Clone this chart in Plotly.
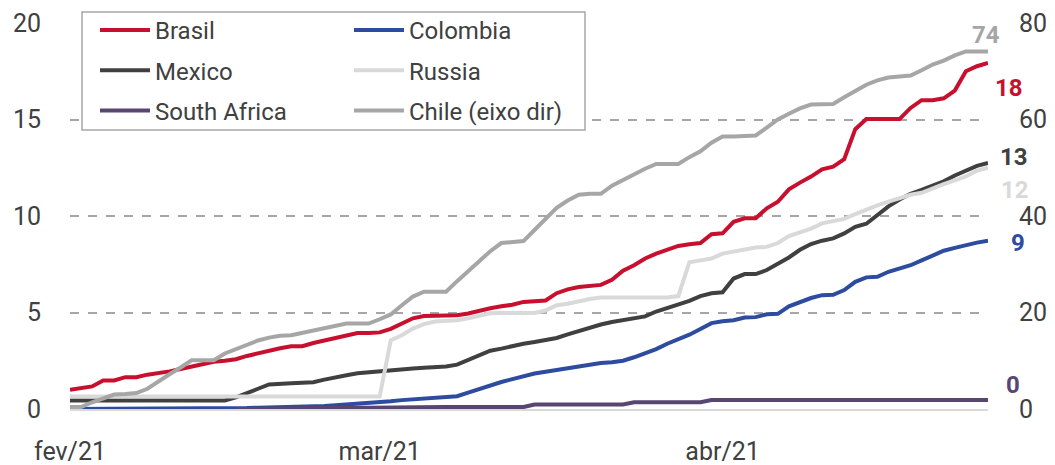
import plotly.graph_objects as go
import pandas as pd

# Daily dates, 1 Feb 2021 .. 25 Apr 2021
dates = pd.date_range("2021-02-01", "2021-04-25", freq="D").strftime("%Y-%m-%d").tolist()

tick_dates = ["2021-02-01", "2021-03-01", "2021-04-01"]
tick_labels = ["fev/21", "mar/21", "abr/21"]

brasil = [1.0, 1.08, 1.17, 1.48, 1.48, 1.65, 1.65, 1.78, 1.85, 1.95,
          2.07, 2.2, 2.32, 2.45, 2.5, 2.58, 2.75, 2.9, 3.05, 3.15,
          3.25, 3.25, 3.42, 3.55, 3.65, 3.82, 3.94, 3.94, 3.97, 4.15,
          4.45, 4.7, 4.82, 4.85, 4.86, 4.86, 4.95, 5.1, 5.22, 5.32,
          5.4, 5.55, 5.58, 5.62, 6.0, 6.2, 6.32, 6.4, 6.43, 6.7,
          7.16, 7.45, 7.8, 8.05, 8.25, 8.45, 8.54, 8.6, 9.06, 9.1,
          9.7, 9.88, 9.88, 10.4, 10.74, 11.38, 11.73, 12.04, 12.42, 12.56,
          12.94, 14.5, 15.02, 15.02, 15.02, 15.02, 15.6, 16.0, 16.0, 16.1,
          16.5, 17.5, 17.76, 17.93]

colombia = [0.0, 0.0, 0.0, 0.0, 0.0, 0.0, 0.0, 0.0, 0.0, 0.0,
            0.0, 0.0, 0.0, 0.0, 0.0, 0.02, 0.05, 0.07, 0.08, 0.09,
            0.1, 0.12, 0.14, 0.16, 0.2, 0.23, 0.27, 0.3, 0.33, 0.4,
            0.46, 0.5, 0.55, 0.59, 0.62, 0.66, 0.85, 1.05, 1.25, 1.4,
            1.55, 1.7, 1.84, 1.93, 2.03, 2.12, 2.22, 2.3, 2.38, 2.42,
            2.5, 2.68, 2.87, 3.1, 3.38, 3.6, 3.85, 4.15, 4.45, 4.55,
            4.6, 4.74, 4.76, 4.91, 4.93, 5.32, 5.55, 5.75, 5.9, 5.92,
            6.16, 6.59, 6.82, 6.85, 7.11, 7.28, 7.45, 7.7, 7.97, 8.2,
            8.35, 8.5, 8.62, 8.72]

mexico = [0.44, 0.44, 0.44, 0.44, 0.44, 0.44, 0.44, 0.44, 0.44, 0.44,
          0.44, 0.44, 0.44, 0.44, 0.44, 0.6, 0.8, 1.05, 1.27, 1.32,
          1.34, 1.36, 1.39, 1.52, 1.65, 1.75, 1.85, 1.91, 1.93, 2.0,
          2.06, 2.1, 2.14, 2.17, 2.2, 2.3, 2.55, 2.8, 3.02, 3.13,
          3.28, 3.38, 3.47, 3.56, 3.68, 3.87, 4.05, 4.25, 4.38, 4.51,
          4.6, 4.7, 4.8, 5.05, 5.23, 5.4, 5.6, 5.85, 6.0, 6.05,
          6.76, 6.99, 6.99, 7.2, 7.5, 7.85, 8.25, 8.55, 8.72, 8.84,
          9.1, 9.44, 9.6, 10.05, 10.5, 10.85, 11.15, 11.35, 11.55, 11.8,
          12.1, 12.35, 12.6, 12.75]

russia = [0.65, 0.65, 0.65, 0.65, 0.65, 0.65, 0.65, 0.65, 0.65, 0.65,
          0.65, 0.65, 0.65, 0.65, 0.65, 0.65, 0.65, 0.65, 0.65, 0.65,
          0.65, 0.65, 0.65, 0.65, 0.65, 0.65, 0.65, 0.65, 0.65, 3.56,
          3.82, 4.17, 4.4, 4.53, 4.55, 4.6, 4.7, 4.85, 4.96, 4.98,
          4.98, 4.98, 4.98, 5.1, 5.38, 5.45, 5.6, 5.7, 5.78, 5.78,
          5.78, 5.78, 5.78, 5.78, 5.78, 5.85, 7.6, 7.7, 7.8, 8.05,
          8.15, 8.25, 8.37, 8.4, 8.6, 8.96, 9.15, 9.35, 9.62, 9.75,
          9.85, 10.1, 10.35, 10.55, 10.75, 10.95, 11.1, 11.2, 11.45, 11.65,
          11.85, 12.05, 12.35, 12.5]

south_africa = [None, None, None, None, None, None, None, None, None, None,
                None, None, None, None, None, 0.0, 0.01, 0.01, 0.02, 0.02,
                0.03, 0.03, 0.04, 0.04, 0.05, 0.05, 0.06, 0.06, 0.07, 0.1,
                0.1, 0.1, 0.1, 0.1, 0.1, 0.1, 0.1, 0.1, 0.1, 0.1,
                0.1, 0.1, 0.23, 0.23, 0.23, 0.23, 0.23, 0.23, 0.23, 0.23,
                0.23, 0.35, 0.35, 0.35, 0.35, 0.35, 0.35, 0.35, 0.47, 0.47,
                0.47, 0.47, 0.47, 0.47, 0.47, 0.47, 0.47, 0.47, 0.47, 0.47,
                0.47, 0.47, 0.47, 0.47, 0.47, 0.47, 0.47, 0.47, 0.47, 0.47,
                0.47, 0.47, 0.47, 0.47]

chile = [0.4, 0.4, 1.4, 2.3, 3.0, 3.1, 3.3, 4.2, 5.8, 7.2,
         8.6, 10.1, 10.1, 10.1, 11.5, 12.4, 13.3, 14.2, 14.8, 15.2,
         15.3, 15.8, 16.3, 16.9, 17.3, 17.7, 17.7, 17.7, 18.6, 19.6,
         21.5, 23.3, 24.3, 24.3, 24.3, 26.5, 28.5, 30.6, 32.7, 34.4,
         34.6, 34.8, 37.1, 39.4, 41.7, 43.2, 44.4, 44.6, 44.6, 46.3,
         47.5, 48.5, 49.8, 50.8, 50.8, 50.8, 52.2, 53.4, 55.2, 56.5,
         56.5, 56.5, 56.7, 58.3, 60.0, 61.2, 62.3, 63.1, 63.1, 63.2,
         64.6, 65.9, 67.2, 68.1, 68.7, 68.9, 69.1, 70.2, 71.4, 72.2,
         73.3, 74.1, 74.1, 74.1]

FONT = "Roboto"
TXT = "#404040"

series = [
    ("Brasil", brasil, "#C8102E", "y", "legend"),
    ("Colombia", colombia, "#2D4B9F", "y", "legend2"),
    ("Mexico", mexico, "#404040", "y", "legend"),
    ("Russia", russia, "#D9D9D9", "y", "legend2"),
    ("South Africa", south_africa, "#584670", "y", "legend"),
    ("Chile (eixo dir)", chile, "#A6A6A6", "y2", "legend2"),
]

# end-label offsets (px): (xshift, yshift, xanchor)
label_offsets = {
    "Brasil": (5, -25, "left"),
    "Colombia": (21, -2, "left"),
    "Mexico": (10, 6, "left"),
    "Russia": (11, -22, "left"),
    "South Africa": (16, 15, "left"),
    "Chile (eixo dir)": (-2, 16, "center"),
}

fig = go.Figure()
annotations = []
for name, vals, color, yax, leg in series:
    fig.add_trace(go.Scatter(
        x=dates, y=vals, name=name, mode="lines", yaxis=yax, legend=leg,
        legendgroup=name,
        line=dict(color=color, width=4), connectgaps=False,
    ))
    last = [v for v in vals if v is not None][-1]
    xs, ys, xa = label_offsets[name]
    annotations.append(dict(
        x=dates[-1], y=last, xref="x", yref=yax, text=f"<b>{round(last)}</b>",
        showarrow=False, xanchor=xa, yanchor="middle", xshift=xs, yshift=ys,
        font=dict(family=FONT, size=24, color=color),
    ))

L, R, T, B = 70, 67, 23, 56
W, H = 1055, 465
pw, ph = W - L - R, H - T - B

def px_x(px):
    return (px - L) / pw

def px_y(py):
    return (H - B - py) / ph

legend_common = dict(
    xanchor="left", yanchor="top", bgcolor="rgba(0,0,0,0)", borderwidth=0,
    font=dict(family=FONT, size=24, color=TXT), itemwidth=50,
    tracegroupgap=6, traceorder="grouped", orientation="v",
)

tickfont = dict(family=FONT, size=25, color=TXT)

fig.update_layout(
    width=W, height=H,
    margin=dict(l=L, r=R, t=T, b=B, autoexpand=False),
    paper_bgcolor="white", plot_bgcolor="white",
    font=dict(family=FONT, size=24, color=TXT),
    showlegend=True,
    legend=dict(x=px_x(95), y=px_y(8), **legend_common),
    legend2=dict(x=px_x(349), y=px_y(8), **legend_common),
    xaxis=dict(
        type="date", range=[dates[0], dates[-1]],
        tickvals=tick_dates, ticktext=tick_labels,
        showgrid=False, zeroline=False, showline=True,
        linecolor="#D9D9D9", linewidth=1.5, ticks="",
        ticklabelstandoff=19, automargin=False,
        tickfont=tickfont,
    ),
    yaxis=dict(
        range=[0, 20], tick0=0, dtick=5, showgrid=True,
        gridcolor="#A6A6A6", griddash="dash", gridwidth=1.5,
        zeroline=False, showline=False, ticks="",
        ticklabelstandoff=28, automargin=False,
        tickfont=tickfont,
    ),
    yaxis2=dict(
        range=[0, 80], tick0=0, dtick=20, overlaying="y", side="right",
        showgrid=False, zeroline=False, showline=False, ticks="",
        ticklabelstandoff=30, automargin=False,
        tickfont=tickfont,
    ),
    shapes=[dict(
        type="rect", xref="paper", yref="paper",
        x0=px_x(82), x1=px_x(585), y0=px_y(130), y1=px_y(12),
        line=dict(color="#A6A6A6", width=1.5), fillcolor="white", layer="above",
    )],
    annotations=annotations,
)

fig.write_html("out.html")
